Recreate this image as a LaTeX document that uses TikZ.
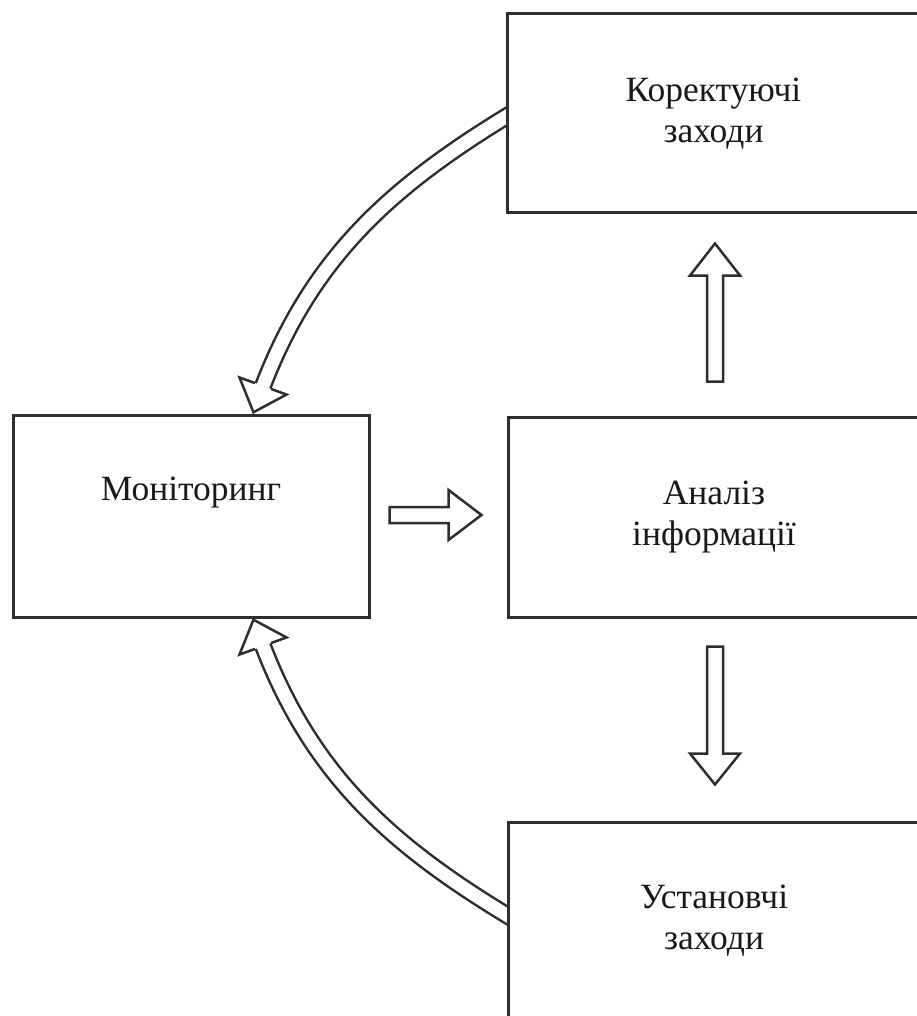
\documentclass[tikz,border=0pt]{standalone}
\usepackage{fontspec}
\setmainfont{Liberation Serif}
\usetikzlibrary{calc}
\pgfdeclarelayer{bg}
\pgfsetlayers{bg,main}
\definecolor{ink}{HTML}{2E2E2E}
\newcommand\fatarrow[4]{%
  \begin{scope}[shift={#1}, rotate=#2]
    \filldraw[hollow] (0,8) -- ({#3-#4},8) -- ({#3-#4},25) -- (#3,0) -- ({#3-#4},-25) -- ({#3-#4},-8) -- (0,-8) -- cycle;
  \end{scope}}
\newcommand\curvehead[2]{%
  \begin{scope}[shift={#1}, rotate=#2]
    \filldraw[hollow] (0,8.5) -- (0,25) -- (28,0) -- (0,-25) -- (0,-8.5);
  \end{scope}}
\begin{document}
\begin{tikzpicture}[x=1pt,y=-1pt,
  box/.style={draw=ink, line width=3pt, fill=white, rectangle, inner sep=0pt,
    align=center, text=black!90, font=\fontsize{35.5}{41}\selectfont},
  label/.style={inner sep=0pt, text=black!90, font=\fontsize{35.5}{41}\selectfont},
  shaft/.style={draw=ink, line width=2.5pt, double=white, double distance=13pt},
  hollow/.style={draw=ink, line width=2.5pt, fill=white, line join=miter}]
\useasboundingbox (0,0) rectangle (917,1016);
\clip (0,0) rectangle (917,1016);

\node[box, minimum width=413pt, minimum height=199pt] (kor) at (713.5,113.5) {Коректуючі\\заходи};
\node[box, minimum width=356pt, minimum height=202pt] (mon) at (191,516) {};
\node[label] (monlabel) at ($(mon.center)+(0,-23)$) {Моніторинг};
\node[box, minimum width=412pt, minimum height=200pt] (an) at (714,517) {Аналіз\\інформації};
\node[box, minimum width=412pt, minimum height=198pt] (ust) at (714,921) {Установчі\\заходи};

% straight hollow arrows
\fatarrow{($(mon.east)+(19,-1)$)}{0}{92}{33}
\fatarrow{($(an.north)+(1,-34)$)}{90}{138}{32}
\fatarrow{($(an.south)+(1,28)$)}{-90}{138}{31}

% curved hollow arrows
\coordinate (topend) at (263,386);
\coordinate (botend) at (263,646);
\begin{pgfonlayer}{bg}
  \draw[shaft] ($(kor.west)+(5,0.5)$) .. controls (392,186) and (313,256) .. (topend);
  \draw[shaft] ($(ust.west)+(5,-3)$) .. controls (392,846) and (313,776) .. (botend);
\end{pgfonlayer}
\curvehead{(topend)}{-110}
\curvehead{(botend)}{110}
\end{tikzpicture}
\end{document}
